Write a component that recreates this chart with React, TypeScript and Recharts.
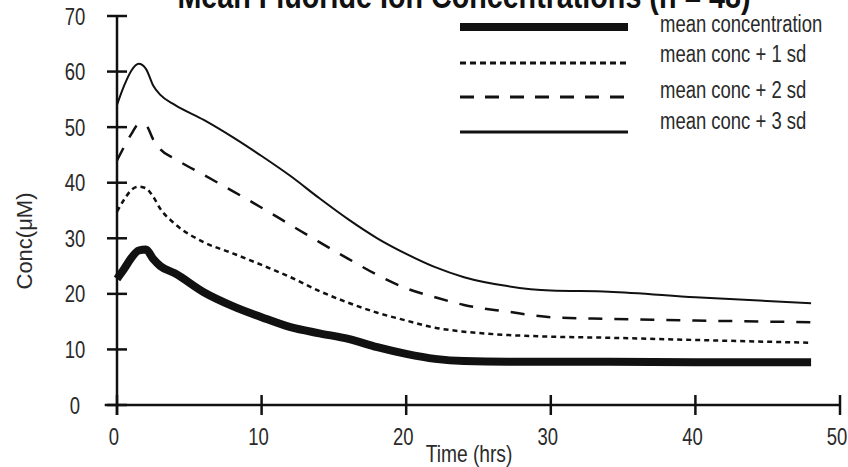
import React from 'react';
import { LineChart, Line, XAxis, YAxis, Legend, ReferenceLine } from 'recharts';

const TIME = [0, 0.5, 1, 1.5, 2, 2.5, 3, 4, 6, 8, 10, 12, 14, 16, 18, 20, 22, 24, 27, 30, 34, 40, 48];
const MEAN = [22.7, 24.5, 26.5, 27.8, 28.0, 26.3, 25.0, 23.7, 20.3, 17.8, 15.8, 14.0, 12.9, 11.9, 10.4, 9.2, 8.3, 7.9, 7.8, 7.8, 7.8, 7.7, 7.7];
const SD1 = [34.8, 37.0, 38.7, 39.3, 39.0, 37.5, 35.3, 32.6, 29.3, 27.3, 25.2, 23.0, 20.5, 18.4, 16.6, 15.2, 13.9, 13.2, 12.6, 12.3, 12.1, 11.7, 11.2];
const SD2 = [44.0, 46.5, 48.8, 50.5, 50.3, 47.8, 46.0, 44.3, 41.4, 38.5, 35.5, 32.4, 29.3, 26.3, 23.4, 21.0, 19.4, 18.0, 16.8, 15.8, 15.5, 15.2, 14.9];
const SD3 = [54.0, 57.5, 60.2, 61.4, 60.5, 57.5, 55.8, 54.0, 51.3, 48.2, 44.8, 41.2, 37.2, 33.4, 30.0, 27.2, 24.8, 23.0, 21.4, 20.6, 20.4, 19.4, 18.3];

const X_TICKS = [0, 10, 20, 30, 40, 50];
const Y_TICKS = [0, 10, 20, 30, 40, 50, 60, 70];
const SERIES_NAMES = ['mean concentration', 'mean conc + 1 sd', 'mean conc + 2 sd', 'mean conc + 3 sd'];
const TITLE = 'Mean Fluoride Ion Concentrations (n = 48)';
const X_LABEL = 'Time (hrs)';
const Y_LABEL = 'Conc(μM)';

const data = TIME.map((t, i) => ({ t, mean: MEAN[i], sd1: SD1[i], sd2: SD2[i], sd3: SD3[i] }));

const SANS = "'Liberation Sans', Arial, Helvetica, sans-serif";
const INK = '#111';
const TEXT = '#2a2a2a';
const SQUEEZE = 0.77;

const STYLES = [
  { key: 'mean', width: 8, legendWidth: 8, dash: undefined as string | undefined, legendDash: undefined as string | undefined },
  { key: 'sd1', width: 2.5, legendWidth: 2.8, dash: '5 4', legendDash: '6 4' },
  { key: 'sd2', width: 2.5, legendWidth: 2.8, dash: '14 12', legendDash: '14 11' },
  { key: 'sd3', width: 2, legendWidth: 3, dash: undefined, legendDash: undefined },
];

const LEG_LINE_Y = [27, 63, 97, 132];
const LEG_TEXT_Y = [31.5, 62, 97.5, 129];

// condensed text: Liberation Sans squeezed horizontally
const NText = (props: any) => {
  const { x, y, size = 24, anchor = 'start', weight = 'normal', fill = TEXT, children, squeeze = SQUEEZE } = props;
  return (
    <text
      x={0}
      y={0}
      transform={`translate(${x} ${y}) scale(${squeeze} 1)`}
      textAnchor={anchor}
      fontSize={size}
      fontWeight={weight}
      fontFamily={SANS}
      fill={fill}
    >
      {children}
    </text>
  );
};

const XTick = (props: any) => {
  const { x, y, payload } = props;
  return (
    <g>
      <line x1={x} x2={x} y1={y - 10} y2={y + 10} stroke={INK} strokeWidth={2.5} />
      <NText x={x - 3} y={y + 40} anchor="middle">
        {payload.value}
      </NText>
    </g>
  );
};

const YTick = (props: any) => {
  const { x, y, payload } = props;
  return (
    <g>
      <line x1={x - 10} x2={x + 10} y1={y} y2={y} stroke={INK} strokeWidth={2.5} />
      <NText x={x - 42} y={y + 8.5} anchor="middle">
        {payload.value}
      </NText>
    </g>
  );
};

const renderLegend = () => (
  <svg width={390} height={150} style={{ display: 'block' }}>
    {STYLES.map((s, i) => (
      <g key={s.key}>
        <line
          x1={5}
          x2={173}
          y1={LEG_LINE_Y[i]}
          y2={LEG_LINE_Y[i]}
          stroke={INK}
          strokeWidth={s.legendWidth}
          strokeDasharray={s.legendDash}
        />
        <NText x={205} y={LEG_TEXT_Y[i]}>
          {SERIES_NAMES[i]}
        </NText>
      </g>
    ))}
  </svg>
);

const XLabel = () => (
  <NText x={469} y={462} anchor="middle" squeeze={0.8}>
    {X_LABEL}
  </NText>
);

const YLabel = () => (
  <text
    x={24}
    y={241}
    textAnchor="middle"
    dominantBaseline="central"
    transform="rotate(-90 24 241)"
    fontSize={22}
    fontFamily={SANS}
    fill={TEXT}
  >
    {Y_LABEL}
  </text>
);

export default function App() {
  return (
    <div style={{ position: 'absolute', left: 0, top: 0, width: 848, height: 467, background: '#fff' }}>
      <LineChart
        width={848}
        height={467}
        data={data}
        margin={{ top: 16, right: 8, left: 57, bottom: 22 }}
      >
        <XAxis
          dataKey="t"
          type="number"
          domain={[0, 50]}
          ticks={X_TICKS}
          interval={0}
          height={40}
          tickSize={0}
          tickMargin={0}
          tickLine={false}
          axisLine={{ stroke: INK, strokeWidth: 2.5 }}
          tick={<XTick />}
          label={<XLabel />}
        />
        <YAxis
          type="number"
          domain={[0, 70]}
          ticks={Y_TICKS}
          interval={0}
          width={60}
          tickSize={0}
          tickMargin={0}
          tickLine={false}
          axisLine={{ stroke: INK, strokeWidth: 2.5 }}
          tick={<YTick />}
          label={<YLabel />}
        />
        <ReferenceLine
          segment={[{ x: 0, y: 0 }, { x: 0, y: -1.8 }]}
          stroke={INK}
          strokeWidth={2.5}
          ifOverflow="visible"
        />
        <ReferenceLine
          segment={[{ x: -0.85, y: 0 }, { x: 0, y: 0 }]}
          stroke={INK}
          strokeWidth={2.5}
          ifOverflow="visible"
        />
        <Legend
          layout="vertical"
          align="center"
          verticalAlign="middle"
          content={renderLegend}
          wrapperStyle={{ position: 'absolute', left: 455, top: 0, width: 390, height: 150 }}
        />
        {STYLES.map((s, i) => (
          <Line
            key={s.key}
            type="monotone"
            dataKey={s.key}
            name={SERIES_NAMES[i]}
            stroke={INK}
            strokeWidth={s.width}
            strokeDasharray={s.dash}
            dot={false}
            activeDot={false}
            isAnimationActive={false}
          />
        ))}
      </LineChart>
      <svg
        width={848}
        height={40}
        style={{ position: 'absolute', left: 0, top: 0, pointerEvents: 'none' }}
      >
        <NText x={464} y={8} anchor="middle" size={35} weight="bold" fill={INK} squeeze={0.82}>
          {TITLE}
        </NText>
      </svg>
    </div>
  );
}
